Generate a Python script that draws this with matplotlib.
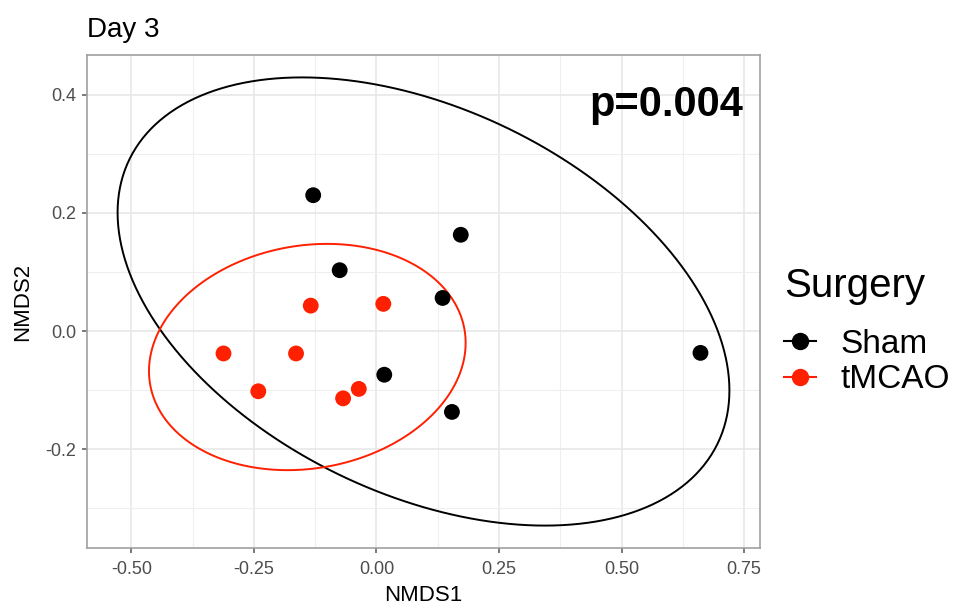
import numpy as np
import matplotlib
matplotlib.use("Agg")
import matplotlib.pyplot as plt
from matplotlib.lines import Line2D
from matplotlib.patches import Polygon
from matplotlib.ticker import MultipleLocator

plt.rcParams['font.family'] = ['Liberation Sans', 'DejaVu Sans']

# NMDS scores
groups = ["Sham", "tMCAO"]
sham_nmds1 = [-0.129, 0.172, -0.075, 0.135, 0.016, 0.154, 0.661]
sham_nmds2 = [0.230, 0.163, 0.103, 0.056, -0.074, -0.137, -0.037]
tmcao_nmds1 = [-0.312, -0.241, -0.164, -0.134, 0.014, -0.068, -0.036]
tmcao_nmds2 = [-0.038, -0.102, -0.038, 0.043, 0.046, -0.114, -0.098]

# 95% ellipses (centre + shape matrix)
sham_ell_center = [0.096, 0.050]
sham_ell_shape = [[0.3894, -0.094], [-0.094, 0.1440]]
tmcao_ell_center = [-0.141, -0.044]
tmcao_ell_shape = [[0.1043, 0.0077], [0.0077, 0.0367]]

p_label = "p=0.004"

colors = {"Sham": "#000000", "tMCAO": "#ff2000"}


def ellipse_path(center, shape, n=200):
    t = np.linspace(0, 2 * np.pi, n, endpoint=False)
    L = np.linalg.cholesky(np.array(shape))
    pts = L @ np.vstack([np.cos(t), np.sin(t)])
    return np.column_stack([center[0] + pts[0], center[1] + pts[1]])


fig = plt.figure(figsize=(9.55, 6.08), dpi=100)
ax = fig.add_axes([87 / 955, 1 - 548 / 608, (760 - 87) / 955, (548 - 55) / 608])

data = {
    "Sham": (sham_nmds1, sham_nmds2, sham_ell_center, sham_ell_shape),
    "tMCAO": (tmcao_nmds1, tmcao_nmds2, tmcao_ell_center, tmcao_ell_shape),
}

for g in groups:
    x, y, c, s = data[g]
    ell = ellipse_path(c, s)
    ax.add_patch(Polygon(ell, closed=True, fill=False, edgecolor=colors[g],
                         lw=1.4, zorder=3))
    # invisible line so autoscale includes the ellipse
    ax.plot(ell[:, 0], ell[:, 1], alpha=0)
    ax.scatter(x, y, s=130, color=colors[g], edgecolors='none', zorder=4)

ax.margins(x=0.05, y=0.05)

# theme_bw look
ax.xaxis.set_minor_locator(MultipleLocator(0.125))
ax.yaxis.set_minor_locator(MultipleLocator(0.1))
ax.set_xticks([-0.5, -0.25, 0, 0.25, 0.5, 0.75])
ax.set_xticklabels(["-0.50", "-0.25", "0.00", "0.25", "0.50", "0.75"])
ax.set_yticks([-0.2, 0.0, 0.2, 0.4])
ax.set_yticklabels(["-0.2", "0.0", "0.2", "0.4"])
ax.grid(True, which='major', color='#e6e6e6', lw=1.1, zorder=0)
ax.grid(True, which='minor', color='#efefef', lw=0.8, zorder=0)
ax.set_axisbelow(True)
for sp in ax.spines.values():
    sp.set_color('#a0a0a0')
    sp.set_linewidth(1.2)
ax.tick_params(which='major', length=3.5, width=1.1, color='#555555',
               labelsize=13, labelcolor='#4d4d4d')
ax.tick_params(axis='x', which='major', pad=6)
ax.tick_params(axis='y', which='major', pad=4)
ax.tick_params(which='minor', length=0)

ax.set_xlabel("NMDS1", fontsize=16, labelpad=5)
ax.set_ylabel("NMDS2", fontsize=16, labelpad=9)
ax.set_title("Day 3", loc='left', fontsize=20, pad=13)

ax.text(0.749, 0.383, p_label, fontsize=30, fontweight='bold',
        ha='right', va='center', zorder=5)

handles = [Line2D([0], [0], color=colors[g], lw=1.5, marker='o', markersize=11.5)
           for g in groups]
leg = ax.legend(handles, groups, title="Surgery", loc='upper left',
                bbox_to_anchor=(784 / 955, 1 - 267 / 608), bbox_transform=fig.transFigure,
                frameon=False, fontsize=24, title_fontsize=29, borderpad=0,
                borderaxespad=0, handlelength=0.95, handletextpad=0.75,
                labelspacing=0.14, alignment='left')
leg._legend_box.sep = 17

fig.savefig("out.png", dpi=100)
